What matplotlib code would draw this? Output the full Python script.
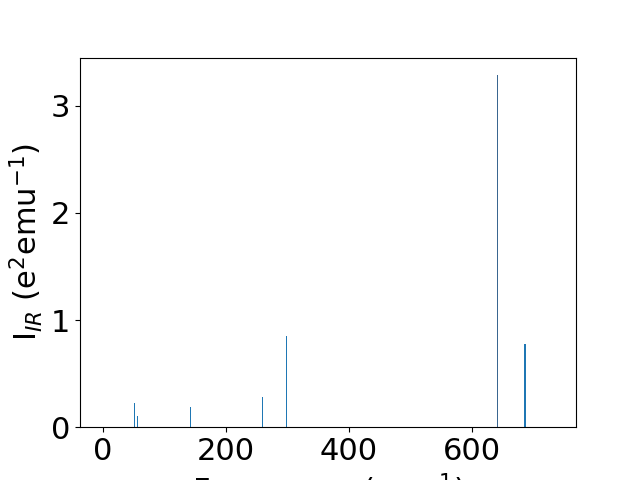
import matplotlib
matplotlib.use("Agg")
import matplotlib.pyplot as plt

# IR modes: frequency (cm^-1) and intensity (e^2 emu^-1)
freqs = [51, 56, 142, 259, 298, 642, 686]
intens = [0.224, 0.106, 0.187, 0.28, 0.85, 3.285, 0.776]
widths = [1.6, 1.6, 1.6, 1.6, 1.6, 1.6, 3.2]

plt.rcParams['font.size'] = 22

fig, ax = plt.subplots(figsize=(6.4, 4.8), dpi=100)
bars = ax.bar(freqs, intens, width=widths, color='#1f77b4', linewidth=0)
bars[5].set_color('#3a6690')

ax.set_xlim(-37.4, 769)
ax.set_ylim(0, 3.449)
ax.set_xticks([0, 200, 400, 600])
ax.set_yticks([0, 1, 2, 3])
ax.set_xlabel('Frequency (cm$^{-1}$)')
ax.set_ylabel('I$_{IR}$ (e$^2$emu$^{-1}$)')

plt.savefig('out.png')
